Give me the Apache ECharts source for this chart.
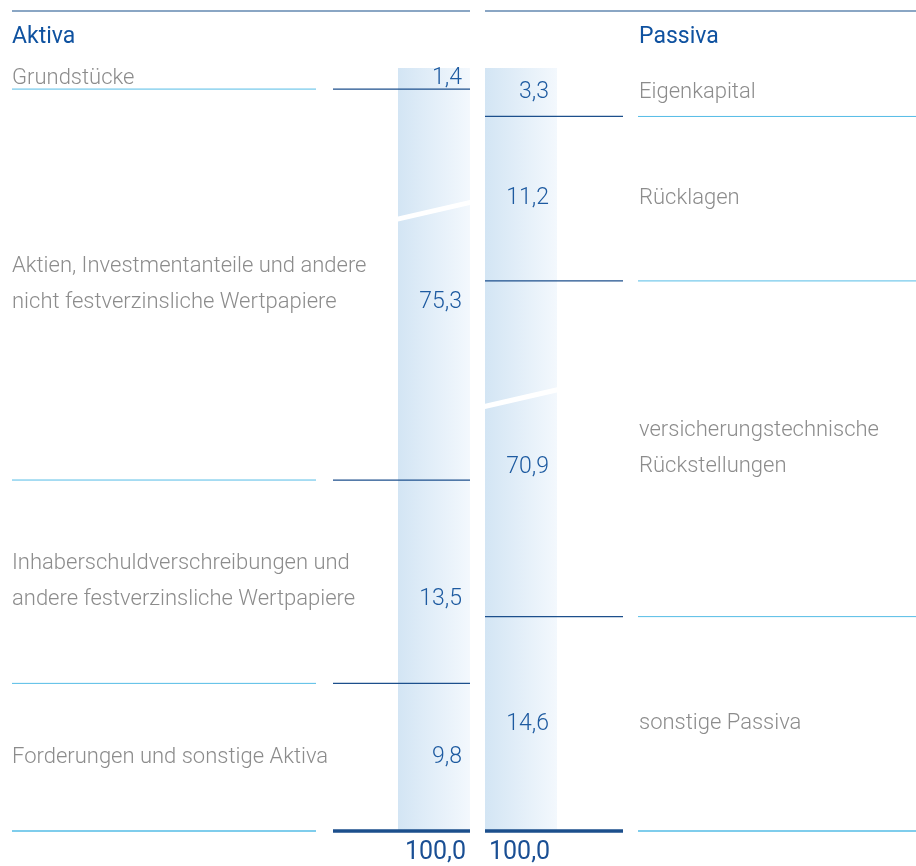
<!DOCTYPE html>
<html lang="de">
<head>
<meta charset="UTF-8">
<title>Bilanzstruktur</title>
<style>
  * { padding: 0; margin: 0; }
  #myChart { width: 916px; height: 866px; }
</style>
</head>
<body>
<div id="myChart"></div>
<script src="https://cdn.jsdelivr.net/npm/echarts@6/dist/echarts.min.js"></script>
<script>
const aktivaNames = [
  'Grundstücke',
  'Aktien, Investmentanteile und andere\nnicht festverzinsliche Wertpapiere',
  'Inhaberschuldverschreibungen und\nandere festverzinsliche Wertpapiere',
  'Forderungen und sonstige Aktiva'
];
const aktivaValues = [1.4, 75.3, 13.5, 9.8];
const passivaNames = [
  'Eigenkapital',
  'Rücklagen',
  'versicherungstechnische\nRückstellungen',
  'sonstige Passiva'
];
const passivaValues = [3.3, 11.2, 70.9, 14.6];
// ausgeblendeter Wertebereich je Säule (Achsenbruch)
const aktivaBreak = [9.3, 59.0];
const passivaBreak = [22.3, 70.7];

const FONT = 'Roboto';
const DARK = '#1c4f8c';
const LIGHT = '#55bce6';

function fmt(v) {
  return v.toFixed(1).replace('.', ',');
}

function stackData(values) {
  let cum = 0;
  return values.map(function (v) {
    const s = cum;
    cum = Math.round((cum + v) * 10) / 10;
    return [0, s, cum, v];
  });
}

// side: 'left' = Aktiva, 'right' = Passiva
function makeRender(side, names, values, brk) {
  const total = values.reduce((a, b) => a + b, 0);
  return function (params, api) {
    const i = params.dataIndex;
    const s = api.value(1), e = api.value(2);
    const p0 = api.coord([0, s]);
    const p1 = api.coord([0, e]);
    const bw = api.size([1, 0])[0];
    const left = p0[0] - bw / 2;
    const right = p0[0] + bw / 2;
    const y0 = p0[1];
    const y1 = p1[1];
    const last = i === values.length - 1;
    const lines = names[i].split('\n');
    const lh = 36;
    const mid = (y0 + y1) / 2;
    const lastY = mid + (lines.length - 1) * lh / 2;

    const children = [{
      type: 'rect',
      shape: { x: left, y: y0, width: bw, height: y1 - y0 },
      style: {
        fill: new echarts.graphic.LinearGradient(0, 0, 1, 0, [
          { offset: 0, color: '#d3e5f4' },
          { offset: 1, color: '#f3f8fd' }
        ])
      }
    }];

    // schräger Bruchstrich, falls der Bruch in diesem Segment liegt
    if (brk[0] > s && brk[1] < e) {
      const yc = (api.coord([0, brk[0]])[1] + api.coord([0, brk[1]])[1]) / 2;
      const slope = 8.5, th = 2.6;
      children.push({
        type: 'polygon',
        shape: {
          points: [
            [left - 1, yc + slope - th], [right + 1, yc - slope - th],
            [right + 1, yc - slope + th], [left - 1, yc + slope + th]
          ]
        },
        style: { fill: '#ffffff' },
        z2: 3
      });
    }

    // Trennlinien
    const dark = side === 'left' ? [left - 65, right] : [left, right + 66];
    const light = side === 'left' ? [12, 316] : [638, 916];
    children.push({
      type: 'line',
      shape: { x1: dark[0], y1: y1, x2: dark[1], y2: y1 },
      style: { stroke: DARK, lineWidth: last ? 3.5 : 1.3 },
      z2: 5
    });
    children.push({
      type: 'line',
      shape: { x1: light[0], y1: y1, x2: light[1], y2: y1 },
      style: { stroke: LIGHT, lineWidth: last ? 1.3 : 1 }
    });

    // Beschriftung
    children.push({
      type: 'text',
      style: {
        x: side === 'left' ? 12 : 639,
        y: mid,
        text: names[i],
        fill: '#8c8c8c',
        font: '300 22px ' + FONT,
        lineHeight: lh,
        align: 'left',
        verticalAlign: 'middle'
      }
    });
    children.push({
      type: 'text',
      style: {
        x: right - 8,
        y: lastY,
        text: fmt(values[i]),
        fill: '#1d5aa0',
        font: '300 23px ' + FONT,
        align: 'right',
        verticalAlign: 'middle'
      },
      z2: 6
    });
    if (last) {
      children.push({
        type: 'text',
        style: {
          x: side === 'left' ? right - 4 : left + 4,
          y: y1 + 22,
          text: fmt(total),
          fill: '#1a4f94',
          font: '25px ' + FONT,
          align: side === 'left' ? 'right' : 'left',
          verticalAlign: 'middle'
        }
      });
    }
    return { type: 'group', children: children };
  };
}

function yAxisFor(gridIndex, brk) {
  return {
    type: 'value',
    gridIndex: gridIndex,
    inverse: true,
    min: 0,
    max: 100,
    axisLine: { show: false },
    axisTick: { show: false },
    axisLabel: { show: false },
    splitLine: { show: false },
    breaks: [{ start: brk[0], end: brk[1], gap: '0.7%' }],
    breakArea: { show: false, expandOnClick: false }
  };
}

const myChart = echarts.init(document.getElementById('myChart'));
const option = {
  backgroundColor: '#ffffff',
  animation: false,
  grid: [
    { left: 398, width: 72, top: 68, height: 763 },
    { left: 485, width: 72, top: 68, height: 763 }
  ],
  xAxis: [
    { type: 'category', gridIndex: 0, data: ['Aktiva'], show: false },
    { type: 'category', gridIndex: 1, data: ['Passiva'], show: false }
  ],
  yAxis: [yAxisFor(0, aktivaBreak), yAxisFor(1, passivaBreak)],
  graphic: [
    { type: 'line', shape: { x1: 12, y1: 11, x2: 470, y2: 11 }, style: { stroke: '#8aa6c4', lineWidth: 2 } },
    { type: 'line', shape: { x1: 485, y1: 11, x2: 916, y2: 11 }, style: { stroke: '#8aa6c4', lineWidth: 2 } },
    { type: 'text', left: 12, top: 26, style: { text: 'Aktiva', fill: '#0f52a0', font: '23px ' + FONT } },
    { type: 'text', left: 639, top: 26, style: { text: 'Passiva', fill: '#0f52a0', font: '23px ' + FONT } }
  ],
  series: [
    {
      name: 'Aktiva',
      type: 'custom',
      xAxisIndex: 0,
      yAxisIndex: 0,
      encode: { x: 0, y: [1, 2] },
      renderItem: makeRender('left', aktivaNames, aktivaValues, aktivaBreak),
      data: stackData(aktivaValues)
    },
    {
      name: 'Passiva',
      type: 'custom',
      xAxisIndex: 1,
      yAxisIndex: 1,
      encode: { x: 0, y: [1, 2] },
      renderItem: makeRender('right', passivaNames, passivaValues, passivaBreak),
      data: stackData(passivaValues)
    }
  ]
};
myChart.setOption(option);
</script>
</body>
</html>
